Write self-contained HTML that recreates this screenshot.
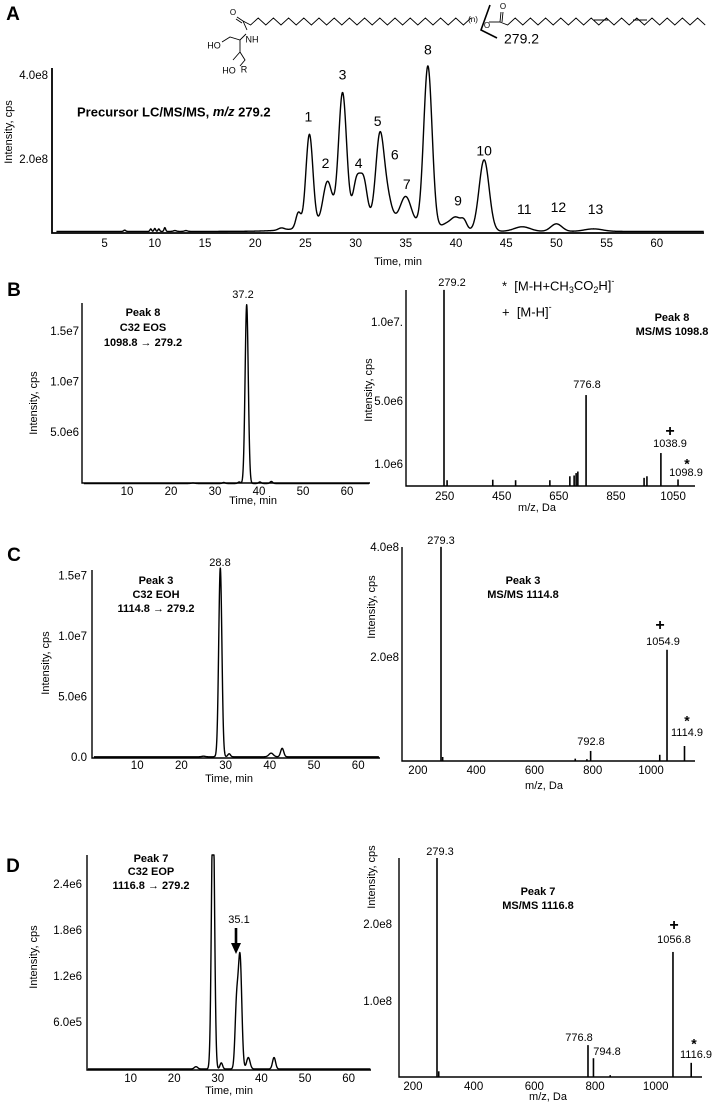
<!DOCTYPE html>
<html><head><meta charset="utf-8"><style>
html,body{margin:0;padding:0;background:#fff;}
svg{display:block;font-family:"Liberation Sans",Arial,sans-serif;}
</style></head><body>
<svg id="fig" width="712" height="1104" viewBox="0 0 712 1104" xmlns="http://www.w3.org/2000/svg"></svg>
<script>
// ---------- DATA ----------
const aBaseline = 0.3e8;
const aPeakTimes   = [7.0, 9.6, 10.0, 10.4, 11.0, 12.0, 13.1, 22.6, 24.3, 25.4, 27.2, 28.7, 30.1, 30.8, 31.0, 32.4, 33.1, 35.0, 37.2, 39.0, 40.0, 40.8, 42.8, 46.6, 50.0, 53.7];
const aPeakHeights = [0.03e8,0.06e8,0.07e8,0.06e8,0.09e8,0.02e8,0.02e8,0.05e8,0.37e8,2.2e8,1.0e8,3.05e8,0.9e8,0.9e8,0.3e8,1.9e8,0.6e8,0.65e8,3.85e8,0.12e8,0.3e8,0.2e8,1.7e8,0.11e8,0.18e8,0.06e8];
const aPeakWidths  = [0.1,0.08,0.08,0.08,0.08,0.15,0.15,0.3,0.25,0.35,0.45,0.4,0.35,0.35,4.0,0.4,0.45,0.55,0.42,0.5,0.5,0.3,0.5,0.8,0.55,0.9];
const aPeakLabels  = ['1','2','3','4','5','6','7','8','9','10','11','12','13'];
const aPeakLabelTimes = [25.3,27.0,28.7,30.3,32.2,33.9,35.1,37.2,40.2,42.8,46.8,50.2,53.9];
const aPeakLabelVals  = [3.0e8,1.9e8,4.0e8,1.9e8,2.9e8,2.1e8,1.4e8,4.6e8,1.0e8,2.2e8,0.8e8,0.85e8,0.8e8];
const aTimeTicks = [5,10,15,20,25,30,35,40,45,50,55,60];
const aYTicks = [2e8,4e8];
const aYTickLabels = ['2.0e8','4.0e8'];

const bBaseline = 0;
const bPeakTimes   = [25.0,32.0,35.5,37.2,40.2,42.8];
const bPeakHeights = [0.05e6,0.1e6,0.15e6,1.77e7,0.15e6,0.2e6];
const bPeakWidths  = [0.4,0.3,0.3,0.36,0.3,0.3];
const bTimeTicks = [10,20,30,40,50,60];
const bYTicks = [5e6,1e7,1.5e7];
const bYTickLabels = ['5.0e6','1.0e7','1.5e7'];
const bMz  = [279.2,290,450,530,650,720,735,742,748,776.8,980,990,1038.9,1098.9];
const bInt = [1.21e7,0.05e6,0.08e6,0.05e6,0.05e6,0.3e6,0.35e6,0.5e6,0.6e6,5.44e6,0.2e6,0.3e6,1.77e6,0.1e6];
const bMzTicks = [250,450,650,850,1050];
const bSpYTicks = [1e6,5e6,1e7];
const bSpYTickLabels = ['1.0e6','5.0e6','1.0e7.'];

const cBaseline = 0.1e6;
const cPeakTimes   = [25.0,28.8,30.8,40.3,42.8];
const cPeakHeights = [0.05e6,1.56e7,0.25e6,0.3e6,0.7e6];
const cPeakWidths  = [0.4,0.36,0.3,0.5,0.35];
const cTimeTicks = [10,20,30,40,50,60];
const cYTicks = [0,5e6,1e7,1.5e7];
const cYTickLabels = ['0.0','5.0e6','1.0e7','1.5e7'];
const cMz  = [279.3,285,740,780,792.8,1030,1054.9,1114.9];
const cInt = [4.02e8,0.2e8,0.17e8,0.16e8,0.31e8,0.24e8,2.15e8,0.4e8];
const cMzTicks = [200,400,600,800,1000];
const cSpYTicks = [2e8,4e8];
const cSpYTickLabels = ['2.0e8','4.0e8'];

const dBaseline = 0;
const dPeakTimes   = [25.0,28.9,30.8,34.3,35.1,37.0,42.9];
const dPeakHeights = [0.03e6,3.6e6,0.08e6,0.8e6,1.45e6,0.15e6,0.15e6];
const dPeakWidths  = [0.4,0.35,0.3,0.35,0.4,0.4,0.35];
const dTimeTicks = [10,20,30,40,50,60];
const dYTicks = [6e5,1.2e6,1.8e6,2.4e6];
const dYTickLabels = ['6.0e5','1.2e6','1.8e6','2.4e6'];
const dMz  = [279.3,285,776.8,794.8,850,1056.8,1116.9];
const dInt = [2.87e8,0.1e8,0.44e8,0.27e8,0.05e8,1.65e8,0.21e8];
const dMzTicks = [200,400,600,800,1000];
const dSpYTicks = [1e8,2e8];
const dSpYTickLabels = ['1.0e8','2.0e8'];

// ---------- HELPERS ----------
const NS='http://www.w3.org/2000/svg';
const svg=document.getElementById('fig');
function mk(tag,attrs,parent){const e=document.createElementNS(NS,tag);for(const k in attrs)e.setAttribute(k,attrs[k]);(parent||svg).appendChild(e);return e;}
function txt(x,y,s,size,anchor,weight,parent){const e=mk('text',{x:x,y:y,'font-size':size,'text-anchor':anchor||'middle','font-weight':weight||'normal','dominant-baseline':'middle',fill:'#000'},parent);e.textContent=s;return e;}
function gsum(t,base,T,H,W){let v=base;for(let i=0;i<T.length;i++){const d=(t-T[i])/W[i];v+=H[i]*Math.exp(-0.5*d*d);}return v;}

function axes(g,ax,top,bottom,right,sw){
  const a=mk('path',{d:`M${ax},${top} L${ax},${bottom} L${right},${bottom}`,fill:'none',stroke:'#000','stroke-width':sw||1.4},g);
  
  
}
function ylabel(g,x,y){
  const t=txt(x,y,'Intensity, cps',11,'middle','normal',g);
  t.setAttribute('transform',`rotate(-90 ${x} ${y})`);
  
  
}
function chrom(g,T,H,W,base,X,Y,tmax,clipTop){
  let d='';
  for(let t=0.2;t<=tmax;t+=0.04){let y=Y(gsum(t,base,T,H,W));if(clipTop!==undefined&&y<clipTop)y=clipTop;d+=(d?'L':'M')+X(t).toFixed(2)+','+y.toFixed(2);}
  const p=mk('path',{d:d,fill:'none',stroke:'#000','stroke-width':1.4,'stroke-linejoin':'round'},g);
  
  
}
function timeTicks(g,ticks,X,y){
  ticks.forEach(v=>{const t=txt(X(v),y,String(v),11.5,'middle','normal',g);
    
    });
}
function yTicks(g,ticks,labels,Y,x){
  ticks.forEach((v,i)=>{const t=txt(x,Y(v),labels[i],11.5,'end','normal',g);
    
    });
}
function bars(g,M,I,X,Y,base){
  M.forEach((m,i)=>{const y=Math.min(Y(I[i]),base-1);const b=mk('line',{x1:X(m),x2:X(m),y1:base,y2:y,stroke:'#000','stroke-width':1.6},g);
    
    });
}
function label(g,x,y,s,size,anchor,weight,name){
  const t=txt(x,y,s,size,anchor,weight,g);
  
  
  return t;
}

// ---------- PANEL A ----------
const gA=mk('g',{});


label(gA,13,15,'A',19,'middle','bold','panel-letter-a');
const gS=mk('g',{fill:'none',stroke:'#000','stroke-width':0.9},gA);


(function(){
  let d='M243,21';let x=243,up=true;
  while(x<466){x+=7.6;d+=` L${x.toFixed(1)},${up?25:18}`;up=!up;}
  mk('path',{d:d},gS);
  mk('path',{d:'M243,21 L237,17 M242,23 L236,19 M243,21 L247,30 M246,34 L240,40 L230,37 L222,42 M240,40 L240,52 L233,60 M240,52 L245,60 L240,66'},gS);
  let d2='M500,22 L501,12 M502,22 L503,12 M500,22';x=500;up=true;
  while(x<705){const nx=x+7.6;const ny=up?25:18;d2+=` L${nx.toFixed(1)},${ny}`;x=nx;up=!up;}
  mk('path',{d:d2},gS);
  mk('path',{d:'M594,20 L608,20 M633,20 L647,20'},gS);
  mk('path',{d:'M490,5 L481,30 L497,38',stroke:'#000','stroke-width':1.6},gS);
  mk('path',{d:'M489,22 L500,22'},gS);
})();
label(gA,233,13,'O',8,'middle','normal','carbonyl-o');
label(gA,252,40,'NH',9,'middle','normal','nh-label');
label(gA,214,46,'HO',9,'middle','normal','ho-label');
label(gA,229,71,'HO',9,'middle','normal','ho-label-2');
label(gA,244,70,'R',9,'middle','normal','r-label');
label(gA,473,20,'(n)',8,'middle','normal','n-repeat');
label(gA,487,26,'O',8,'middle','normal','ester-o');
label(gA,503,7,'O',8,'middle','normal','ester-carbonyl-o');
label(gA,504,40,'279.2',14,'start','normal','fragment-mz');
const AX=t=>54.4+t*10.04, AY=v=>244-v*84/2e8;
axes(gA,52,68,233,704,1.8);
chrom(gA,aPeakTimes,aPeakHeights,aPeakWidths,aBaseline,AX,AY,64.7);
timeTicks(gA,aTimeTicks,AX,244);
yTicks(gA,aYTicks,aYTickLabels,AY,48);
ylabel(gA,9,132);
label(gA,398,262,'Time, min',11,'middle','normal','x-axis-title');
const tA=label(gA,77,113,'',13,'start','bold','chart-title');
tA.innerHTML='Precursor LC/MS/MS, <tspan font-style="italic">m/z</tspan> 279.2';
aPeakLabels.forEach((s,i)=>{const t=txt(AX(aPeakLabelTimes[i]),AY(aPeakLabelVals[i]),s,14,'middle','normal',gA);
  
  });

// ---------- PANEL B ----------
const gB=mk('g',{});


label(gB,14,291,'B',19,'middle','bold','panel-letter-b');
const BX=t=>83+t*4.4, BY=v=>483.5-v*50.5/5e6;
axes(gB,82,303,483,370);
chrom(gB,bPeakTimes,bPeakHeights,bPeakWidths,bBaseline,BX,BY,65);
timeTicks(gB,bTimeTicks,BX,492);
yTicks(gB,bYTicks,bYTickLabels,BY,79);
ylabel(gB,34,403);
label(gB,253,501,'Time, min',11,'middle','normal','x-axis-title');
label(gB,243,295,'37.2',11,'middle','normal','peak-rt-label');
label(gB,143,313,'Peak 8',11,'middle','bold','annotation');
label(gB,143,328,'C32 EOS',11,'middle','bold','annotation');
label(gB,143,343,'1098.8 \u2192 279.2',11,'middle','bold','annotation');
const BSX=m=>444+(m-279.2)*0.2855, BSY=v=>481-v*79/5e6;
axes(gB,406,290,486,695);
bars(gB,bMz,bInt,BSX,BSY,486);
bMzTicks.forEach(v=>{const t=txt(BSX(v)+9,497,String(v),11.5,'middle','normal',gB);
  
  });
yTicks(gB,bSpYTicks,bSpYTickLabels,BSY,403);
ylabel(gB,369,390);
label(gB,537,508,'m/z, Da',11,'middle','normal','x-axis-title');
label(gB,452,283,'279.2',11,'middle','normal','peak-mz-label');
label(gB,587,385,'776.8',11,'middle','normal','peak-mz-label');
label(gB,670,432,'+',16,'middle','bold','adduct-marker');
label(gB,670,444,'1038.9',11,'middle','normal','peak-mz-label');
label(gB,687,465,'*',14,'middle','bold','adduct-marker');
label(gB,686,473,'1098.9',11,'middle','normal','peak-mz-label');
const lg1=label(gB,502,287,'',13,'start','normal','legend-entry');
lg1.innerHTML='*&#160;&#160;[M-H+CH<tspan font-size="9" dy="4">3</tspan><tspan dy="-4">CO</tspan><tspan font-size="9" dy="4">2</tspan><tspan dy="-4">H]</tspan><tspan font-size="9" dy="-5">-</tspan>';
const lg2=label(gB,502,313,'',13,'start','normal','legend-entry');
lg2.innerHTML='+&#160;&#160;[M-H]<tspan font-size="9" dy="-5">-</tspan>';
label(gB,672,318,'Peak 8',11,'middle','bold','annotation');
label(gB,672,332,'MS/MS 1098.8',11,'middle','bold','annotation');

// ---------- PANEL C ----------
const gC=mk('g',{});


label(gC,14,556,'C',19,'middle','bold','panel-letter-c');
const CX=t=>93+t*4.42, CY=v=>758-v*60.5/5e6;
axes(gC,92,570,758,380);
chrom(gC,cPeakTimes,cPeakHeights,cPeakWidths,cBaseline,CX,CY,64.7);
timeTicks(gC,cTimeTicks,CX,766);
yTicks(gC,cYTicks,cYTickLabels,CY,87);
ylabel(gC,46,663);
label(gC,229,779,'Time, min',11,'middle','normal','x-axis-title');
label(gC,220,563,'28.8',11,'middle','normal','peak-rt-label');
label(gC,156,581,'Peak 3',11,'middle','bold','annotation');
label(gC,156,595,'C32 EOH',11,'middle','bold','annotation');
label(gC,156,609,'1114.8 \u2192 279.2',11,'middle','bold','annotation');
const CSX=m=>441+(m-279.3)*0.2914, CSY=v=>768-v*110/2e8;
axes(gC,402,547,761,695);
bars(gC,cMz,cInt,CSX,CSY,761);
cMzTicks.forEach(v=>{const t=txt(CSX(v),771,String(v),11.5,'middle','normal',gC);
  
  });
yTicks(gC,cSpYTicks,cSpYTickLabels,CSY,399);
ylabel(gC,372,607);
label(gC,544,786,'m/z, Da',11,'middle','normal','x-axis-title');
label(gC,441,541,'279.3',11,'middle','normal','peak-mz-label');
label(gC,591,742,'792.8',11,'middle','normal','peak-mz-label');
label(gC,660,626,'+',16,'middle','bold','adduct-marker');
label(gC,663,642,'1054.9',11,'middle','normal','peak-mz-label');
label(gC,687,722,'*',14,'middle','bold','adduct-marker');
label(gC,687,733,'1114.9',11,'middle','normal','peak-mz-label');
label(gC,523,581,'Peak 3',11,'middle','bold','annotation');
label(gC,523,595,'MS/MS 1114.8',11,'middle','bold','annotation');

// ---------- PANEL D ----------
const gD=mk('g',{});


label(gD,13,867,'D',19,'middle','bold','panel-letter-d');
const DX=t=>87+t*4.36, DY=v=>1069-v*46/6e5;
axes(gD,87,855,1070,371);
chrom(gD,dPeakTimes,dPeakHeights,dPeakWidths,dBaseline,DX,DY,65,855);
timeTicks(gD,dTimeTicks,DX,1079);
yTicks(gD,dYTicks,dYTickLabels,DY,82);
ylabel(gD,34,957);
label(gD,229,1091,'Time, min',11,'middle','normal','x-axis-title');
label(gD,239,920,'35.1',11,'middle','normal','peak-rt-label');
const ar=mk('path',{d:'M236,928 L236,944',stroke:'#000','stroke-width':2.6,fill:'none'},gD);


const ah=mk('polygon',{points:'231,943 241,943 236,954',fill:'#000'},gD);


label(gD,151,859,'Peak 7',11,'middle','bold','annotation');
label(gD,151,872,'C32 EOP',11,'middle','bold','annotation');
label(gD,151,886,'1116.8 \u2192 279.2',11,'middle','bold','annotation');
const DSX=m=>437+(m-279.3)*0.3035, DSY=v=>1079-v*77/1e8;
axes(gD,399,858,1077,702);
bars(gD,dMz,dInt,DSX,DSY,1077);
dMzTicks.forEach(v=>{const t=txt(DSX(v),1087,String(v),11.5,'middle','normal',gD);
  
  });
yTicks(gD,dSpYTicks,dSpYTickLabels,DSY,392);
ylabel(gD,372,877);
label(gD,548,1097,'m/z, Da',11,'middle','normal','x-axis-title');
label(gD,440,852,'279.3',11,'middle','normal','peak-mz-label');
label(gD,579,1038,'776.8',11,'middle','normal','peak-mz-label');
label(gD,607,1052,'794.8',11,'middle','normal','peak-mz-label');
label(gD,674,926,'+',16,'middle','bold','adduct-marker');
label(gD,674,940,'1056.8',11,'middle','normal','peak-mz-label');
label(gD,694,1045,'*',14,'middle','bold','adduct-marker');
label(gD,696,1055,'1116.9',11,'middle','normal','peak-mz-label');
label(gD,538,892,'Peak 7',11,'middle','bold','annotation');
label(gD,538,906,'MS/MS 1116.8',11,'middle','bold','annotation');
</script>
</body></html>
